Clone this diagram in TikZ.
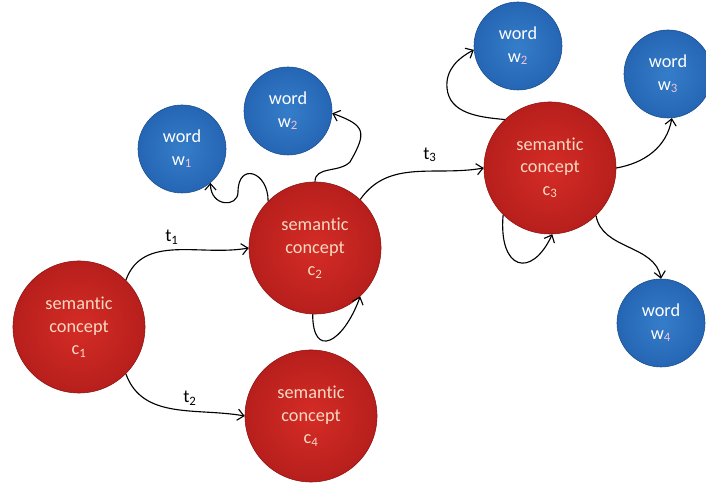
\documentclass[tikz,border=0pt]{standalone}
\usepackage{fontspec}
\setmainfont{Carlito}[Ligatures=NoCommon]
\usetikzlibrary{arrows.meta,shadings}
\definecolor{scRedIn}{HTML}{D52C26}
\definecolor{scRedOut}{HTML}{B71F1C}
\definecolor{scRim}{HTML}{8A1513}
\definecolor{scText}{HTML}{F7DAC4}
\definecolor{wdBlueIn}{HTML}{357DCA}
\definecolor{wdBlueOut}{HTML}{2566B4}
\definecolor{wdRim}{HTML}{1B4E8C}
\definecolor{wdSub}{HTML}{F0C4D8}
\tikzset{
  conceptball/.style={circle,draw=scRim,line width=0.4pt,inner color=scRedIn,outer color=scRedOut,
    minimum size=3.3cm,inner sep=0pt,align=center,text=scText,font=\fontsize{13}{16}\selectfont},
  wordball/.style={circle,draw=wdRim,line width=0.4pt,inner color=wdBlueIn,outer color=wdBlueOut,
    minimum size=2.2cm,inner sep=0pt,align=center,text=white,font=\fontsize{13}{16}\selectfont},
  tlabel/.style={inner sep=1pt,font=\fontsize{13}{16}\selectfont},
  link/.style={-{Straight Barb[length=4.5pt,width=8pt]},line width=0.8pt}
}

\begin{document}
\begin{tikzpicture}[x=0.025cm,y=0.025cm]
  \useasboundingbox (0,0) rectangle (706,484);
  % semantic concepts
  \node[conceptball] (con1) at (79,157) {semantic\\concept\\c\textsubscript{1}};
  \node[conceptball] (con2) at (315,236) {semantic\\concept\\c\textsubscript{2}};
  \node[conceptball] (con3) at (550,316) {semantic\\concept\\c\textsubscript{3}};
  \node[conceptball] (con4) at (311,68) {semantic\\concept\\c\textsubscript{4}};
  % words
  \node[wordball] (wrd1) at (182,335) {word\\w\textsubscript{\color{wdSub}1}};
  \node[wordball] (wrd2a) at (288,373) {word\\w\textsubscript{\color{wdSub}2}};
  \node[wordball] (wrd2b) at (518,438) {word\\w\textsubscript{\color{wdSub}2}};
  \node[wordball] (wrd3) at (668,410) {word\\w\textsubscript{\color{wdSub}3}};
  \node[wordball] (wrd4) at (661,161) {word\\w\textsubscript{\color{wdSub}4}};
  % bends of the wavy links
  \coordinate (k1) at (238,292);
  \coordinate (k2) at (350,322);
  \coordinate (k3) at (447,396);
  % transitions
  \draw[link] (con1.45) to[out=70,in=190] (con2.west);
  \draw[link] (con1.-45) to[out=-70,in=170] (con4.west);
  \draw[link] (con2.47) to[out=55,in=190] (con3.west);
  \node[tlabel] (lt1) at (172,247) {t\textsubscript{1}};
  \node[tlabel] (lt2) at (190,86) {t\textsubscript{2}};
  \node[tlabel] (lt3) at (430,329) {t\textsubscript{3}};
  % emissions and self loops
  \draw[link] (con2.135) .. controls +(0,30) and +(0,30) .. (k1)
    .. controls +(0,-16) and +(0,-24) .. (wrd1.-50);
  \draw[link] (con2.90) to[out=90,in=225] (k2)
    .. controls +(60:35) and +(-20:35) .. (wrd2a.-3);
  \draw[link] (con2.-92) .. controls +(-90:45) and +(-110:50) .. (con2.-47);
  \draw[link] (con3.133) to[out=175,in=-85] (k3) to[out=95,in=208] (wrd2b.185);
  \draw[link] (con3.0) to[out=10,in=-100] (wrd3.-85);
  \draw[link] (con3.-46) .. controls +(-80:35) and +(100:35) .. (wrd4.north);
  \draw[link] (con3.-135) .. controls +(-95:55) and +(-115:50) .. (con3.-88);
\end{tikzpicture}
\end{document}
